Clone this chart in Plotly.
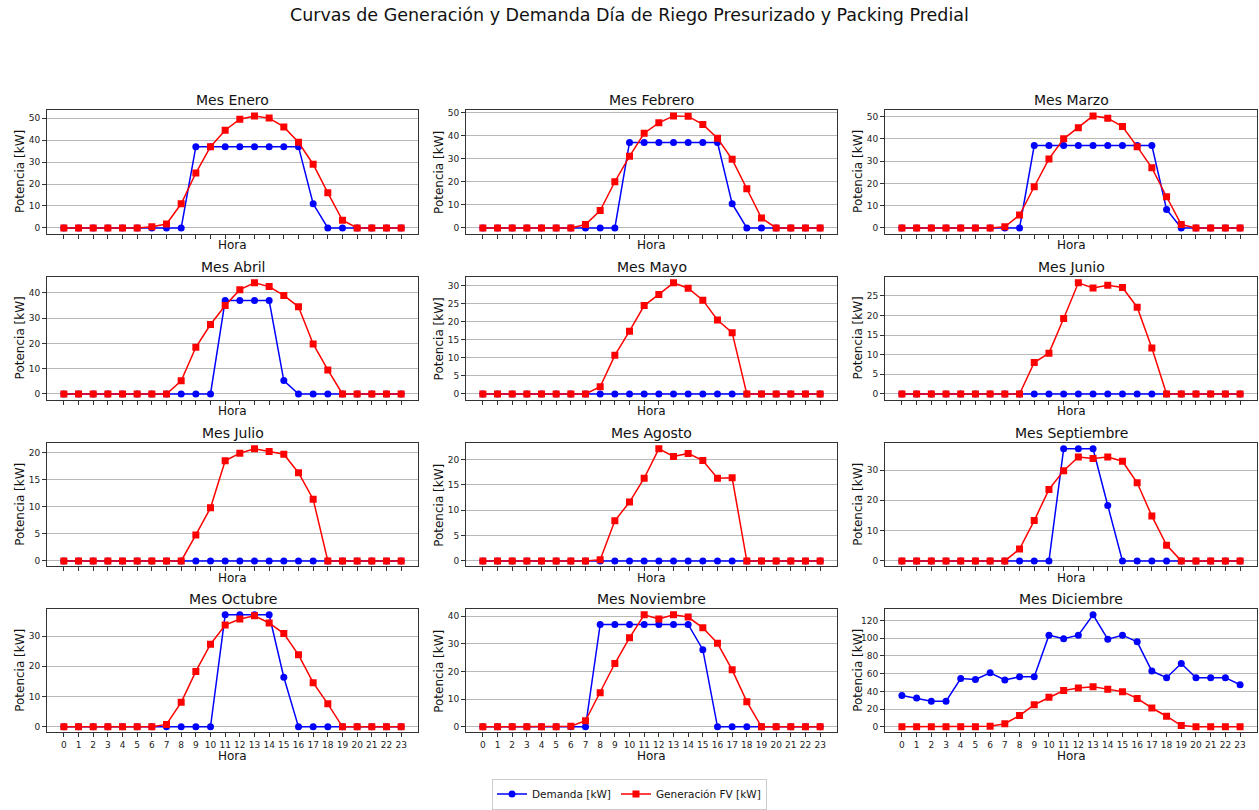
import plotly.graph_objects as go
from plotly.subplots import make_subplots

horas = list(range(24))
meses = ["Enero", "Febrero", "Marzo", "Abril", "Mayo", "Junio",
         "Julio", "Agosto", "Septiembre", "Octubre", "Noviembre", "Diciembre"]

Z = [0] * 24

demanda_enero = [0]*9 + [37]*8 + [11, 0, 0] + [0]*4
demanda_febrero = [0]*10 + [37]*7 + [10.5, 0, 0] + [0]*4
demanda_marzo = [0]*9 + [37]*9 + [8.3, 0] + [0]*4
demanda_abril = [0]*11 + [37]*4 + [5.3, 0, 0, 0] + [0]*5
demanda_mayo = Z[:]
demanda_junio = Z[:]
demanda_julio = Z[:]
demanda_agosto = Z[:]
demanda_septiembre = [0]*11 + [37]*3 + [18.3] + [0]*9
demanda_octubre = [0]*11 + [37]*4 + [16.4] + [0]*8
demanda_noviembre = [0]*8 + [37]*7 + [27.9] + [0]*8
demanda_diciembre = [35.5, 32.5, 29, 29, 54.5, 53.5, 61, 53, 56.5, 56.5, 103.5, 99.5,
                     103.5, 126.5, 99, 103.5, 96, 63, 55.5, 71.5, 55.5, 55.5, 55.5, 47.5]

gen_enero = [0, 0, 0, 0, 0, 0, 0.5, 1.8, 11, 25, 37, 44.5, 49.5, 51, 50, 46, 39, 29, 16, 3.5, 0, 0, 0, 0]
gen_febrero = [0, 0, 0, 0, 0, 0, 0, 1.5, 7.5, 20, 31, 41, 45.5, 48.5, 48.3, 44.8, 38.8, 29.7, 17, 4.3, 0, 0, 0, 0]
gen_marzo = [0, 0, 0, 0, 0, 0, 0, 0.5, 5.8, 18.5, 31, 40, 45, 50.3, 49.3, 45.5, 36.5, 27, 14, 1.5, 0, 0, 0, 0]
gen_abril = [0, 0, 0, 0, 0, 0, 0, 0, 5.2, 18.5, 27.5, 35, 41.3, 44, 42.5, 39, 34.5, 19.8, 9.5, 0, 0, 0, 0, 0]
gen_mayo = [0, 0, 0, 0, 0, 0, 0, 0, 2, 10.7, 17.4, 24.5, 27.6, 30.8, 29.3, 26, 20.5, 17, 0, 0, 0, 0, 0, 0]
gen_junio = [0, 0, 0, 0, 0, 0, 0, 0, 0, 8, 10.4, 19.2, 28.3, 27, 27.7, 27.1, 22.1, 11.7, 0, 0, 0, 0, 0, 0]
gen_julio = [0, 0, 0, 0, 0, 0, 0, 0, 0, 4.8, 9.8, 18.5, 19.9, 20.7, 20.2, 19.7, 16.3, 11.4, 0, 0, 0, 0, 0, 0]
gen_agosto = [0, 0, 0, 0, 0, 0, 0, 0, 0.2, 7.9, 11.6, 16.3, 22.1, 20.6, 21.2, 19.8, 16.3, 16.4, 0, 0, 0, 0, 0, 0]
gen_septiembre = [0, 0, 0, 0, 0, 0, 0, 0, 3.9, 13.3, 23.6, 29.8, 34.3, 33.8, 34.3, 32.9, 25.8, 14.8, 5.2, 0, 0, 0, 0, 0]
gen_octubre = [0, 0, 0, 0, 0, 0, 0, 0.8, 8.1, 18.3, 27.3, 33.6, 35.6, 36.7, 34.3, 30.8, 23.8, 14.6, 7.6, 0, 0, 0, 0, 0]
gen_noviembre = [0, 0, 0, 0, 0, 0, 0.2, 2.2, 12.3, 22.9, 32.2, 40.5, 39, 40.5, 39.7, 35.8, 30.2, 20.6, 9.1, 0, 0, 0, 0, 0]
gen_diciembre = [0, 0, 0, 0, 0, 0, 0.8, 3.5, 12.8, 25, 33.3, 41, 43.8, 45.2, 42.6, 39.7, 32.1, 21.3, 12, 1.5, 0, 0, 0, 0]

demanda = [demanda_enero, demanda_febrero, demanda_marzo, demanda_abril, demanda_mayo,
           demanda_junio, demanda_julio, demanda_agosto, demanda_septiembre,
           demanda_octubre, demanda_noviembre, demanda_diciembre]
generacion = [gen_enero, gen_febrero, gen_marzo, gen_abril, gen_mayo, gen_junio,
              gen_julio, gen_agosto, gen_septiembre, gen_octubre, gen_noviembre, gen_diciembre]

# styling
W, H = 1259, 810
col_px = [(47, 418), (466, 837), (885, 1257)]
row_px = [(111, 235), (279, 402), (446, 570), (613, 737)]
dticks = [10, 10, 10, 10, 5, 5, 5, 5, 10, 10, 10, 20]
FONT = "DejaVu Sans"
TXT = "#222222"

fig = make_subplots(rows=4, cols=3)

annotations = []
for i, mes in enumerate(meses):
    r, c = i // 3, i % 3
    show = (i == 0)
    fig.add_trace(go.Scatter(x=horas, y=demanda[i], mode="lines+markers",
                             name="Demanda [kW]", legendgroup="d", showlegend=show,
                             line=dict(color="#0000ff", width=1.5),
                             marker=dict(symbol="circle", size=7, color="#0000ff")),
                  row=r + 1, col=c + 1)
    fig.add_trace(go.Scatter(x=horas, y=generacion[i], mode="lines+markers",
                             name="Generación FV [kW]", legendgroup="g", showlegend=show,
                             line=dict(color="#ff0000", width=1.5),
                             marker=dict(symbol="square", size=7, color="#ff0000")),
                  row=r + 1, col=c + 1)
    x0, x1 = col_px[c]
    y0, y1 = row_px[r]
    ymax = max(max(demanda[i]), max(generacion[i]))
    ymin = min(min(demanda[i]), min(generacion[i]))
    span = ymax - ymin
    fig.update_xaxes(domain=[x0 / W, x1 / W], range=[-1.15, 24.15], automargin=False,
                     tickmode="array", tickvals=horas, ticktext=[str(h) for h in horas],
                     tickangle=0,
                     showticklabels=(r == 3), ticks="outside", ticklen=4, tickcolor="#333",
                     showgrid=False, zeroline=False, showline=True, mirror=True,
                     linecolor="#333333", linewidth=1,
                     tickfont=dict(family=FONT, size=9, color=TXT),
                     row=r + 1, col=c + 1)
    fig.update_yaxes(domain=[1 - y1 / H, 1 - y0 / H], automargin=False,
                     range=[ymin - 0.05 * span, ymax + 0.05 * span],
                     tick0=0, dtick=dticks[i], ticks="outside", ticklen=4, tickcolor="#333",
                     showgrid=True, gridcolor="#b8b8b8", gridwidth=1, zeroline=False,
                     showline=True, mirror=True, linecolor="#333333", linewidth=1,
                     tickfont=dict(family=FONT, size=9, color=TXT),
                     row=r + 1, col=c + 1)
    cx = (x0 + x1) / 2 / W
    annotations.append(dict(text="Mes " + mes, x=cx, y=1 - (y0 - 10) / H, xref="paper", yref="paper",
                            xanchor="center", yanchor="middle", showarrow=False,
                            font=dict(family=FONT, size=14, color="#111")))
    hy = y1 + (24 if r == 3 else 12)
    annotations.append(dict(text="Hora", x=cx, y=1 - hy / H, xref="paper", yref="paper",
                            xanchor="center", yanchor="middle", showarrow=False,
                            font=dict(family=FONT, size=12, color="#111")))
    annotations.append(dict(text="Potencia [kW]", x=(x0 - 27) / W, y=1 - (y0 + y1) / 2 / H,
                            xref="paper", yref="paper", xanchor="center", yanchor="middle",
                            textangle=-90, showarrow=False,
                            font=dict(family=FONT, size=12, color="#111")))

annotations.append(dict(text="Curvas de Generación y Demanda Día de Riego Presurizado y Packing Predial",
                        x=0.5, y=1 - 15 / H, xref="paper", yref="paper", xanchor="center",
                        yanchor="middle", showarrow=False,
                        font=dict(family=FONT, size=17.5, color="#111")))

fig.update_layout(width=W, height=H, autosize=False,
                  margin=dict(l=0, r=0, t=0, b=0),
                  paper_bgcolor="white", plot_bgcolor="white",
                  annotations=annotations,
                  legend=dict(orientation="h", x=0.5, xanchor="center", y=1 - 799 / H,
                              yanchor="middle", bordercolor="#cccccc", borderwidth=1,
                              font=dict(family=FONT, size=10.5, color="#111"),
                              bgcolor="white"))

fig.write_html("out.html", config={"displayModeBar": False},
               post_script="document.body.style.margin='0';document.body.style.padding='0';"
                           "document.body.style.overflow='hidden';")
